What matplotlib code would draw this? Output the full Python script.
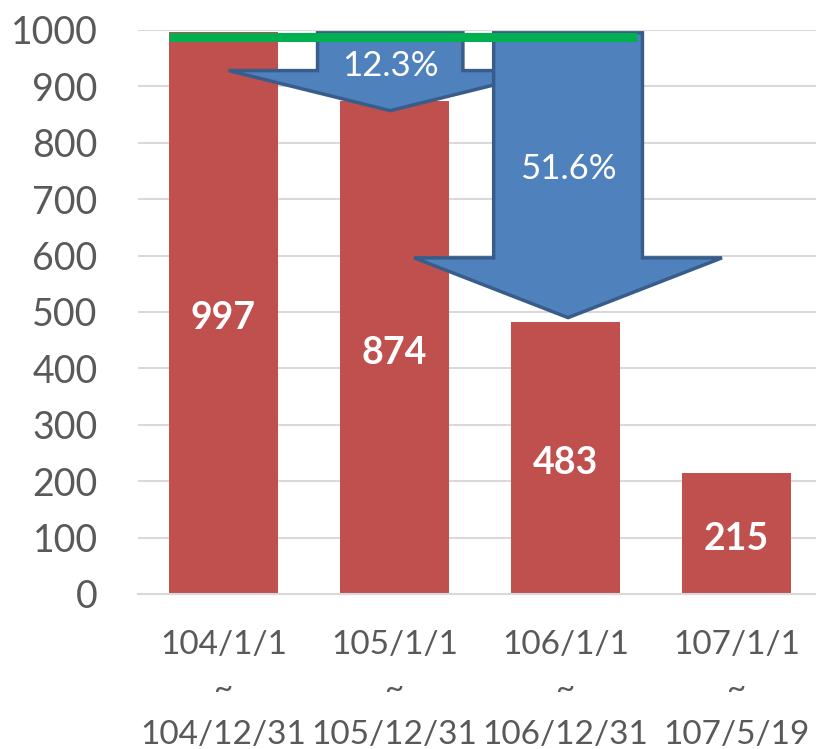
import matplotlib
matplotlib.use("Agg")
import matplotlib.pyplot as plt
from matplotlib.patches import Polygon

plt.rcParams['font.family'] = ['Lato', 'DejaVu Sans']

# ---- data ----
periods = ["104/1/1\n~\n104/12/31", "105/1/1\n~\n105/12/31",
           "106/1/1\n~\n106/12/31", "107/1/1\n~\n107/5/19"]
counts = [997, 874, 483, 215]
drop_labels = ["12.3%", "51.6%"]
y_ticks = [0, 100, 200, 300, 400, 500, 600, 700, 800, 900, 1000]

BAR = "#C0504D"
ARROW_FILL = "#4F81BD"
ARROW_EDGE = "#385D8A"
GREEN = "#00B050"
GRID = "#D9D9D9"
TXT = "#595959"

fig = plt.figure(figsize=(8.16, 7.49), dpi=100)
ax = fig.add_axes([138 / 816, 155 / 749, 1 - 138 / 816, 564 / 749])

x = list(range(len(counts)))
bars = ax.bar(x, counts, width=0.64, color=BAR, zorder=2)

for xi, v in zip(x, counts):
    ax.annotate(str(v), (xi, v / 2), xytext=(0, -4), textcoords="offset points",
                ha="center", va="center", color="white",
                fontsize=27, fontweight="bold", zorder=6)

ax.set_ylim(0, 1000)
ax.set_xlim(-0.5, 3.465)
ax.set_yticks(y_ticks)
ax.set_xticks(x)
ax.set_xticklabels(periods)
ax.yaxis.grid(True, color=GRID, linewidth=1.5, zorder=0)
ax.set_axisbelow(True)
for s in ["left", "right", "top"]:
    ax.spines[s].set_visible(False)
ax.spines["bottom"].set_color(GRID)
ax.spines["bottom"].set_linewidth(1.5)
ax.tick_params(axis="both", length=0, colors=TXT)
ax.tick_params(axis="y", labelsize=27, pad=29)
ax.tick_params(axis="x", labelsize=24, pad=26)
for lab in ax.get_xticklabels():
    lab.set_linespacing(1.62)


def down_arrow(cx, half_shaft, half_head, top, wing_y, tip_y, z):
    pts = [(cx - half_shaft, top), (cx + half_shaft, top),
           (cx + half_shaft, wing_y), (cx + half_head, wing_y),
           (cx, tip_y), (cx - half_head, wing_y),
           (cx - half_shaft, wing_y)]
    ax.add_patch(Polygon(pts, closed=True, facecolor=ARROW_FILL,
                         edgecolor=ARROW_EDGE, linewidth=2.5, zorder=z,
                         joinstyle="miter"))


# arrow 1: 997 -> 874
down_arrow(0.975, 0.425, 0.945, 995, 928, 857, 3)
ax.text(0.975, 936, drop_labels[0], ha="center", va="center", color="white",
        fontsize=25, zorder=6)
# arrow 2: 997 -> 483
down_arrow(2.015, 0.435, 0.9, 995, 596, 490, 4)
ax.text(2.015, 753, drop_labels[1], ha="center", va="center", color="white",
        fontsize=25, zorder=6)

# green reference line at top
ax.plot([-0.32, 2.418], [988, 988], color=GREEN, linewidth=6.5,
        solid_capstyle="butt", zorder=5)

fig.savefig("out.png", dpi=100)
